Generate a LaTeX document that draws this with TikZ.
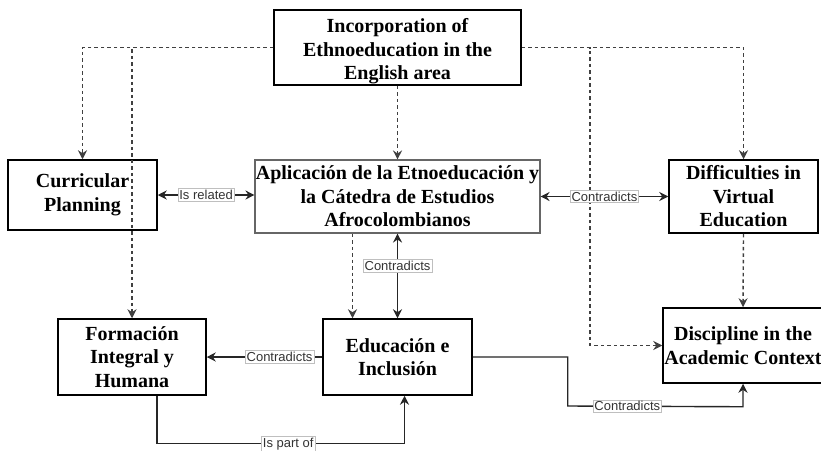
\documentclass[tikz,border=0pt]{standalone}
\usepackage{fontspec}
\setmainfont{Liberation Serif}
\newfontfamily\lblfont{Liberation Sans}
\usetikzlibrary{arrows.meta,calc}
\begin{document}
\begin{tikzpicture}[x=1pt,y=-1pt,
  box/.style={draw=black, line width=1.5pt, align=center, inner sep=0pt,
    font=\fontsize{20}{23.5}\selectfont\bfseries},
  conn/.style={line width=1.4pt, draw=black!85, -{Stealth[length=9pt,width=9pt,inset=3pt]}},
  biconn/.style={line width=1.4pt, draw=black!85, {Stealth[length=9pt,width=9pt,inset=3pt]}-{Stealth[length=9pt,width=9pt,inset=3pt]}},
  dconn/.style={conn, draw=black!75, dash pattern=on 3.5pt off 3pt},
  lbl/.style={draw=black!25, line width=0.7pt, fill=white, text=black!80, inner sep=1.5pt,
    font=\lblfont\fontsize{13}{14}\selectfont}]
\useasboundingbox (0,0) rectangle (821,450);
\fill[white] (0,0) rectangle (821,450);

\node[box, minimum width=247pt, minimum height=75pt] (inc) at (397.5,47.5)
  {\rule{0pt}{21.5pt}Incorporation of\\Ethnoeducation in the\\English area};
\node[box, minimum width=149pt, minimum height=70pt] (curr) at (82.5,195)
  {Curricular\\Planning};
\node[box, draw=black!60, line width=1.1pt, minimum width=285pt, minimum height=73pt] (apl) at (397.5,196.5)
  {Aplicación de la Etnoeducación y\\la Cátedra de Estudios\\Afrocolombianos};
\node[box, minimum width=149pt, minimum height=73pt] (diff) at (743.5,196.5)
  {Difficulties in\\Virtual\\Education};
\node[box, minimum width=148pt, minimum height=76pt] (form) at (132,357)
  {Formación\\Integral y\\Humana};
\node[box, minimum width=149pt, minimum height=76pt] (edu) at (397.5,357)
  {Educación e\\Inclusión};
\node[box, minimum width=160pt, minimum height=75pt] (disc) at (743,345.5)
  {Discipline in the\\Academic Context};

% dashed connectors from the top box
\draw[dconn] (inc.west) -| (curr.north);
\draw[dconn] (inc.west) -| (form.north);
\draw[dconn] (inc.east) -| (diff.north);
\coordinate (rbend) at (590,345.5);
\draw[dconn] (inc.east) -| (rbend) -- (disc.west);
\draw[dconn] (inc.south) -- (apl.north);
\draw[dconn] ($(apl.south)+(-45,0)$) -- ($(edu.north)+(-45,0)$);
\draw[dconn] (diff.south) -- (disc.north);

% solid connectors
\draw[biconn] (curr.east) -- node[lbl] {Is related} (curr.east -| apl.west);
\draw[biconn] (apl.east) -- node[lbl] {Contradicts} (apl.east -| diff.west);
\draw[biconn] (apl.south) -- node[lbl, pos=0.38] {Contradicts} (edu.north);
\draw[conn] (edu.west) -- node[lbl, pos=0.37] {Contradicts} (form.east);
\draw[conn] ($(form.south)+(25,0)$) -- ++(0,48) -- node[lbl, pos=0.53] {Is part of} ($(edu.south)+(7,48)$) -- ($(edu.south)+(7,0)$);
\draw[conn] (edu.east) -- ++(95,0) -- ++(0,49) -- node[lbl, pos=0.34] {Contradicts} ($(disc.south)+(0,23)$) -- (disc.south);
\end{tikzpicture}
\end{document}
